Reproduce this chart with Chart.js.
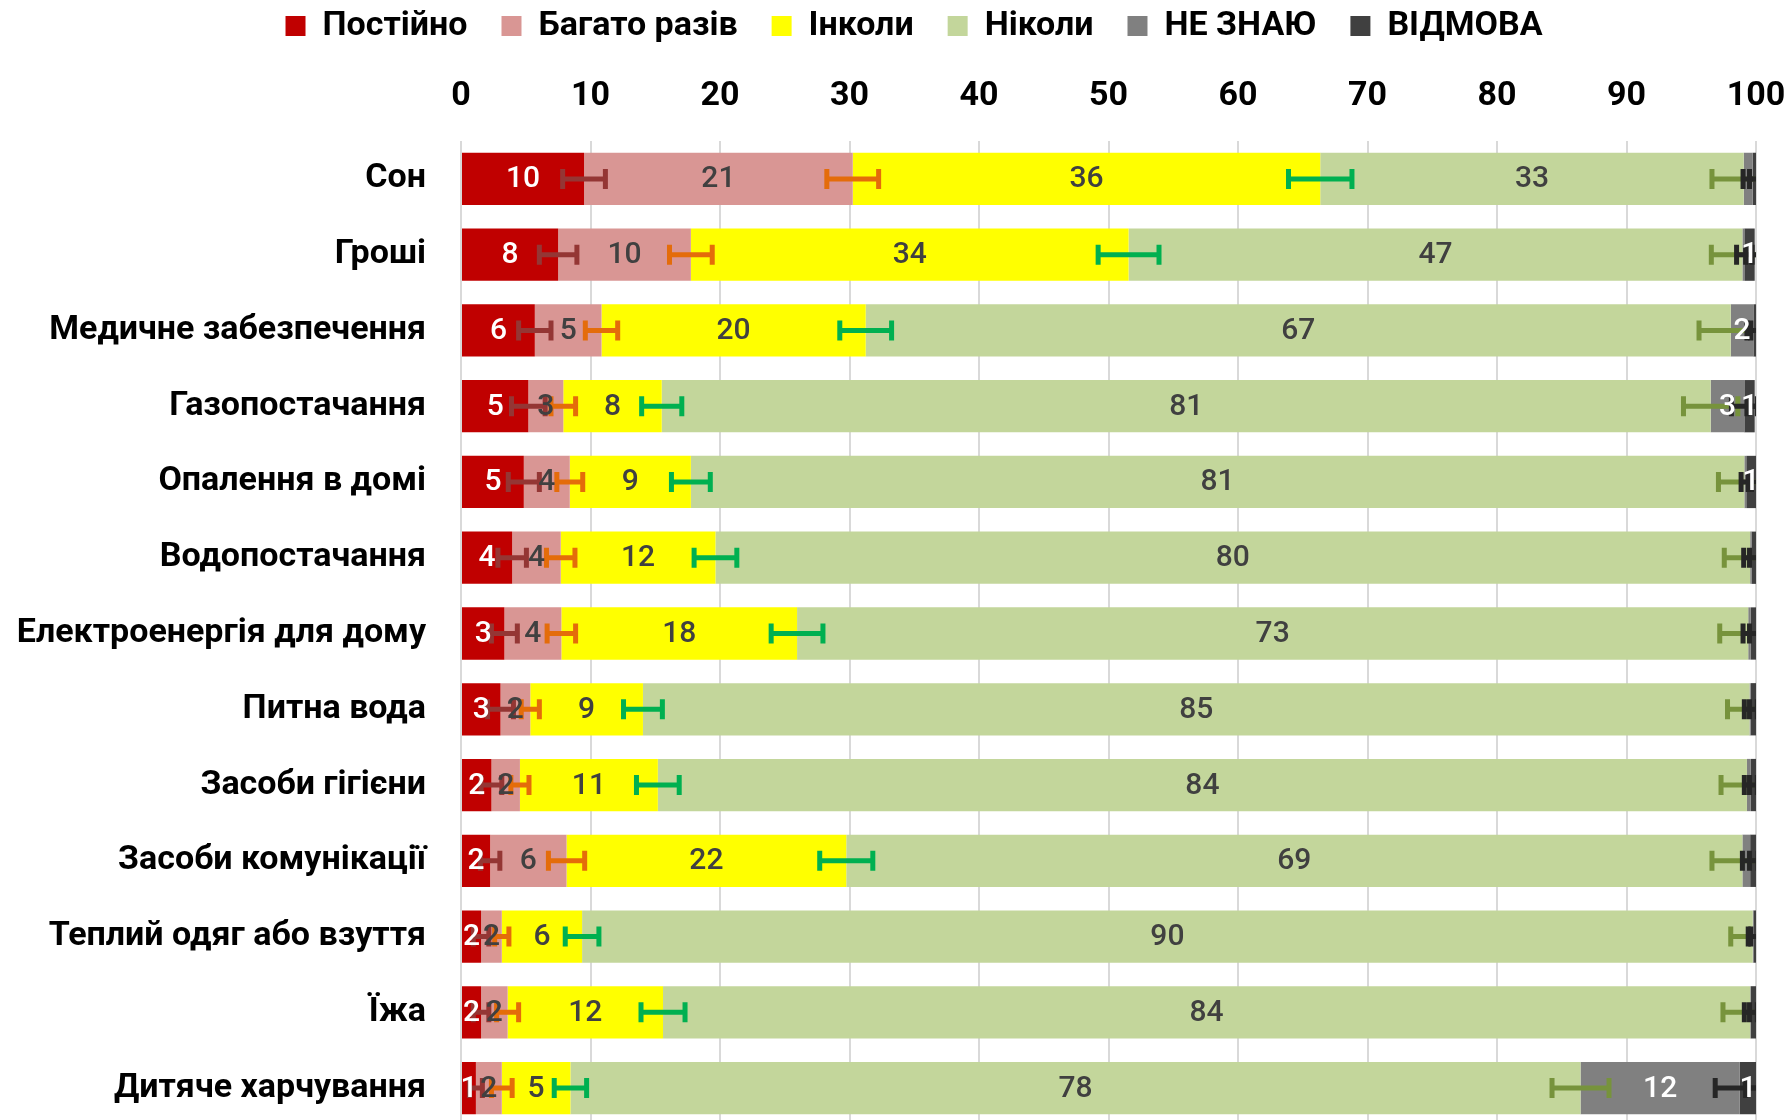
<!DOCTYPE html>
<html>
<head>
<meta charset="utf-8">
<script src="https://cdn.jsdelivr.net/npm/chart.js@4.4.1/dist/chart.umd.min.js"></script>
<style>
  html, body { margin: 0; padding: 0; background: #fff; overflow: hidden; }
  #wrap { position: relative; top: -25px; width: 1790px; height: 1151px; }
</style>
</head>
<body>
<div id="wrap"><canvas id="chart" aria-label="Стовпчикова діаграма"></canvas></div>
<script>
// категорії (рядки)
const categories = [
  'Сон', 'Гроші', 'Медичне забезпечення', 'Газопостачання', 'Опалення в домі',
  'Водопостачання', 'Електроенергія для дому', 'Питна вода', 'Засоби гігієни',
  'Засоби комунікації', 'Теплий одяг або взуття', 'Їжа', 'Дитяче харчування'
];

// відсотки по відповідях
const postiyno = [9.5, 7.5, 5.7, 5.2, 4.85, 3.95, 3.35, 3.05, 2.35, 2.25, 1.55, 1.55, 1.15];
const bahatoRaziv = [20.75, 10.25, 5.15, 2.7, 3.55, 3.75, 4.4, 2.3, 2.2, 5.9, 1.6, 2.05, 2.0];
const inkoly = [36.1, 33.8, 20.4, 7.6, 9.35, 11.95, 18.2, 8.7, 10.65, 21.6, 6.2, 12.0, 5.3];
const nikoly = [32.7, 47.4, 66.8, 81.0, 81.35, 79.9, 73.45, 85.45, 84.1, 69.2, 90.4, 83.95, 78.0];
const neZnayu = [0.7, 0.15, 1.75, 2.6, 0.15, 0.1, 0.2, 0.1, 0.3, 0.6, 0.05, 0.05, 12.3];
const vidmova = [0.25, 0.8, 0.2, 0.8, 0.75, 0.35, 0.4, 0.4, 0.4, 0.45, 0.2, 0.4, 1.25];

// похибки (± в п.п.)
const errPostiyno = [1.65, 1.45, 1.25, 1.3, 1.2, 1.1, 1.0, 1.0, 0.8, 0.75, 0.6, 0.6, 0.5];
const errBahato = [2.0, 1.65, 1.25, 0.95, 1.0, 1.1, 1.1, 0.7, 0.7, 1.4, 0.55, 0.85, 0.8];
const errInkoly = [2.45, 2.35, 2.0, 1.55, 1.5, 1.65, 2.0, 1.5, 1.65, 2.05, 1.3, 1.7, 1.25];
const errNikoly = [2.45, 2.4, 2.45, 2.1, 2.0, 2.0, 2.2, 1.7, 2.0, 2.35, 1.7, 2.1, 2.2];
const errNeZnayu = [0.75, 0.6, 0.5, 1.0, 0.4, 0.6, 0.6, 0.5, 0.5, 0.6, 0.4, 0.5, 1.9];
const errVidmova = [0.5, 0.7, 0.4, 0.6, 0.6, 0.5, 0.5, 0.5, 0.5, 0.5, 0.4, 0.5, 0.8];

const xTicks = [0, 10, 20, 30, 40, 50, 60, 70, 80, 90, 100];

const FONT = 'Roboto, "Noto Sans", sans-serif';

// малює похибки і підписи значень поверх смуг
const barExtras = {
  id: 'barExtras',
  afterDatasetsDraw(chart) {
    const { ctx, chartArea, scales: { x } } = chart;
    const unit = x.getPixelForValue(1) - x.getPixelForValue(0);

    ctx.save();
    ctx.beginPath();
    ctx.rect(chartArea.left, chartArea.top, chartArea.width, chartArea.height);
    ctx.clip();
    ctx.lineWidth = 5;
    chart.data.datasets.forEach((ds, i) => {
      const meta = chart.getDatasetMeta(i);
      ctx.strokeStyle = ds.errorColor;
      meta.data.forEach((bar, j) => {
        const e = ds.errors[j] * unit;
        const cap = 10;
        ctx.beginPath();
        ctx.moveTo(bar.x - e, bar.y);
        ctx.lineTo(bar.x + e, bar.y);
        ctx.moveTo(bar.x - e, bar.y - cap);
        ctx.lineTo(bar.x - e, bar.y + cap);
        ctx.moveTo(bar.x + e, bar.y - cap);
        ctx.lineTo(bar.x + e, bar.y + cap);
        ctx.stroke();
      });
    });
    ctx.restore();

    ctx.save();
    ctx.font = `500 30px ${FONT}`;
    ctx.textAlign = 'center';
    ctx.textBaseline = 'middle';
    chart.data.datasets.forEach((ds, i) => {
      const meta = chart.getDatasetMeta(i);
      ctx.fillStyle = ds.labelColor;
      meta.data.forEach((bar, j) => {
        const v = ds.data[j];
        if (v < 0.75) return;
        ctx.fillText(String(Math.round(v)), (bar.x + bar.base) / 2, bar.y + 1);
      });
    });
    ctx.restore();
  }
};

// легенда трохи правіше, як в оригіналі
const legendShift = {
  id: 'legendShift',
  afterLayout(chart) {
    chart.legend.left += 36;
    chart.legend.right += 36;
  }
};

const series = [
  { label: 'Постійно', data: postiyno, errors: errPostiyno, color: '#C00000', errorColor: '#943634', labelColor: '#FFFFFF' },
  { label: 'Багато разів', data: bahatoRaziv, errors: errBahato, color: '#D99694', errorColor: '#E46C0A', labelColor: '#404040' },
  { label: 'Інколи', data: inkoly, errors: errInkoly, color: '#FFFF00', errorColor: '#00B050', labelColor: '#404040' },
  { label: 'Ніколи', data: nikoly, errors: errNikoly, color: '#C3D69B', errorColor: '#77933C', labelColor: '#404040' },
  { label: 'НЕ ЗНАЮ', data: neZnayu, errors: errNeZnayu, color: '#808080', errorColor: '#262626', labelColor: '#FFFFFF' },
  { label: 'ВІДМОВА', data: vidmova, errors: errVidmova, color: '#404040', errorColor: '#262626', labelColor: '#FFFFFF' },
];

new Chart(document.getElementById('chart'), {
  type: 'bar',
  data: {
    labels: categories,
    datasets: series.map(s => ({
      label: s.label,
      data: s.data,
      errors: s.errors,
      errorColor: s.errorColor,
      labelColor: s.labelColor,
      backgroundColor: s.color,
      borderWidth: 0,
      categoryPercentage: 1,
      barPercentage: 0.69,
    })),
  },
  options: {
    indexAxis: 'y',
    responsive: true,
    maintainAspectRatio: false,
    animation: false,
    layout: { padding: { top: 0, right: 34, bottom: 0, left: 0 } },
    plugins: {
      legend: {
        position: 'top',
        labels: {
          font: { family: FONT, size: 34, weight: 'bold' },
          color: '#000',
          boxWidth: 20,
          boxHeight: 20,
          padding: 34,
        },
      },
      tooltip: { enabled: false },
    },
    scales: {
      x: {
        position: 'top',
        stacked: true,
        min: 0,
        max: 100,
        afterBuildTicks: (scale) => { scale.ticks = xTicks.map(v => ({ value: v })); },
        afterFit: (scale) => {
          scale.height = 88;
          scale.paddingLeft = 0;
          scale.paddingRight = 0;
        },
        ticks: {
          font: { family: FONT, size: 34, weight: 'bold' },
          color: '#000',
          padding: 24,
        },
        grid: { color: '#D9D9D9', lineWidth: 2, drawTicks: false },
        border: { display: false },
      },
      y: {
        stacked: true,
        afterFit: (scale) => {
          scale.width = 461;
          scale.paddingTop = 0;
          scale.paddingBottom = 0;
        },
        ticks: {
          font: { family: FONT, size: 34, weight: 'bold' },
          color: '#000',
          padding: 35,
          autoSkip: false,
        },
        grid: { display: false, drawTicks: false },
        border: { display: false },
      },
    },
  },
  plugins: [barExtras, legendShift],
});
</script>
</body>
</html>
